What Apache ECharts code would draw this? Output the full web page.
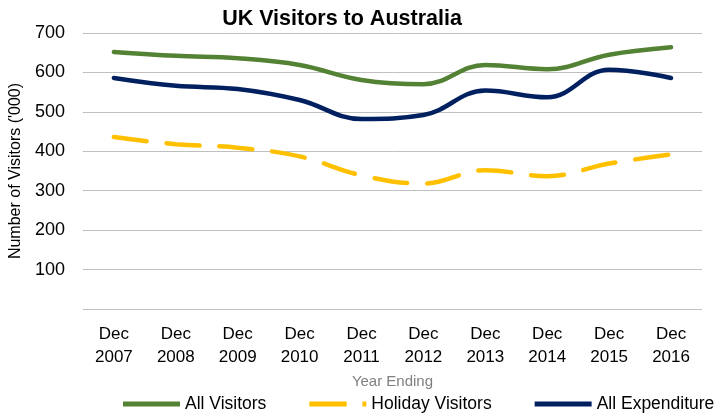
<!DOCTYPE html>
<html style="height: 100%">
<head>
<meta charset="utf-8">
<script src="https://cdn.jsdelivr.net/npm/echarts@6/dist/echarts.min.js"></script>
</head>
<body style="height: 100%; margin: 0">
<div id="container" style="width: 714px; height: 414px;"></div>
<script type="text/javascript">
var years = ['Dec\n2007', 'Dec\n2008', 'Dec\n2009', 'Dec\n2010', 'Dec\n2011',
             'Dec\n2012', 'Dec\n2013', 'Dec\n2014', 'Dec\n2015', 'Dec\n2016'];
var allVisitors = [652, 642, 636, 619, 581, 570, 619, 608, 645, 664];
var holidayVisitors = [436, 418, 409, 387, 339, 318, 352, 337, 369, 392];
var allExpenditure = [586, 566, 558, 530, 482, 492, 554, 537, 607, 586];

var font = "'Liberation Sans', Arial, sans-serif";
var myChart = echarts.init(document.getElementById('container'));

// legend keys drawn like the Excel ones: solid bar, or long dash + dot
var solidKey = 'path://M0,0H57V5H0Z';
var dashKey = 'path://M0,0H38V5H0Z M54,0H58V5H54Z';

var option = {
    animation: false,
    textStyle: { fontFamily: font },
    title: {
        text: 'UK Visitors to Australia',
        left: 337,
        textAlign: 'center',
        top: 3,
        textStyle: { fontSize: 21.5, fontWeight: 'bold', color: '#000', fontFamily: font }
    },
    grid: { left: 80, right: 12, top: 33, bottom: 105 },
    legend: {
        left: 123,
        top: 395,
        width: 900,   // keep on one row, runs off the right edge like the original
        padding: 0,
        itemWidth: 57,
        itemHeight: 5,
        itemGap: 43,
        textStyle: { fontSize: 17.5, color: '#000', fontFamily: font },
        data: [
            { name: 'All Visitors', icon: solidKey },
            { name: 'Holiday Visitors', icon: dashKey },
            { name: 'All Expenditure', icon: solidKey }
        ]
    },
    xAxis: {
        type: 'category',
        data: years,
        name: 'Year Ending',
        nameLocation: 'middle',
        nameGap: 60,
        nameTextStyle: { fontSize: 15, color: '#7F7F7F' },
        axisLine: { show: false },
        axisTick: { show: false },
        axisLabel: { fontSize: 17, color: '#000', margin: 14, lineHeight: 23 }
    },
    yAxis: {
        type: 'value',
        min: 0,
        max: 700,
        interval: 100,
        name: "Number of Visitors ('000)",
        nameLocation: 'middle',
        nameGap: 55,
        nameTextStyle: { fontSize: 16, color: '#000' },
        axisLabel: {
            fontSize: 18, color: '#000', margin: 18,
            formatter: function (v) { return v === 0 ? '' : v; }
        },
        splitLine: { lineStyle: { color: '#BFBFBF', width: 1 } }
    },
    series: [
        {
            name: 'All Visitors',
            type: 'line',
            data: allVisitors,
            smooth: 0.4,
            symbol: 'none',
            lineStyle: { color: '#548235', width: 4.5, cap: 'round' },
            itemStyle: { color: '#548235' }
        },
        {
            name: 'Holiday Visitors',
            type: 'line',
            data: holidayVisitors,
            smooth: 0.4,
            symbol: 'none',
            lineStyle: { color: '#FFC000', width: 4.5, type: [33, 20], cap: 'round' },
            itemStyle: { color: '#FFC000' }
        },
        {
            name: 'All Expenditure',
            type: 'line',
            data: allExpenditure,
            smooth: 0.4,
            symbol: 'none',
            lineStyle: { color: '#002060', width: 4.5, cap: 'round' },
            itemStyle: { color: '#002060' }
        }
    ]
};
myChart.setOption(option);
</script>
</body>
</html>
